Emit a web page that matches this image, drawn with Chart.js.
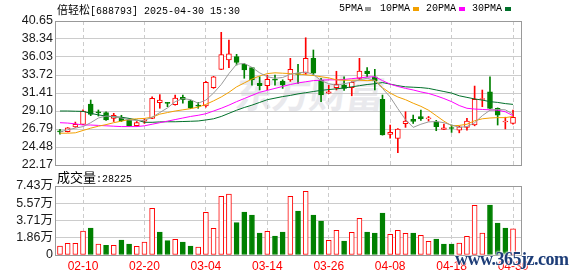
<!DOCTYPE html>
<html>
<head>
<meta charset="utf-8">
<script src="https://cdn.jsdelivr.net/npm/chart.js@4.4.1/dist/chart.umd.min.js"></script>
<style>
body { margin: 0; background: #fff; }
#wrap { position: relative; width: 578px; height: 276px; overflow: hidden; }
canvas { position: absolute; left: 0; top: 0; }
.t { position: absolute; white-space: nowrap; font-family: "Liberation Mono", monospace; font-size: 10px; line-height: 12px; color: #000; }
.cjk { font-family: "Noto Sans CJK SC", sans-serif; }
.sq { position: absolute; width: 6px; height: 4px; top: 7px; }
#wm { position: absolute; left: 236px; top: 64px; font: bold 38px "Noto Sans CJK SC", sans-serif; color: #e9e9ed; letter-spacing: -1px; transform: skewX(-8deg); }
#site { position: absolute; left: 455px; top: 249px; font: bold 18px "Liberation Serif", serif; letter-spacing: -0.5px; color: #1d3d78;
  text-shadow: 0 0 2px #fff, 0 0 2px #fff, 0 0 3px #fff; }
</style>
</head>
<body>
<div id="wrap">
  <div id="wm">东方财富</div>
  <canvas id="kline" width="578" height="276"></canvas>
  <canvas id="vol" width="578" height="276"></canvas>
  <div class="t" style="left:57px;top:3px"><span class="cjk" style="font-size:11px">倍轻松</span>[688793] 2025-04-30 15:30</div>
  <div class="t" style="left:57px;top:171px"><span class="cjk" style="font-size:13px">成交量</span>:28225</div>
  <div id="site">www.365jz.com</div>
</div>
<script>
// 2025-02-05 .. 2025-04-30 daily bars
var dates = ["02-05","02-06","02-07","02-10","02-11","02-12","02-13","02-14","02-17","02-18",
  "02-19","02-20","02-21","02-24","02-25","02-26","02-27","02-28","03-03","03-04",
  "03-05","03-06","03-07","03-10","03-11","03-12","03-13","03-14","03-17","03-18",
  "03-19","03-20","03-21","03-24","03-25","03-26","03-27","03-28","03-31","04-01",
  "04-02","04-03","04-07","04-08","04-09","04-10","04-11","04-14","04-15","04-16",
  "04-17","04-18","04-21","04-22","04-23","04-24","04-25","04-28","04-29","04-30"];

var open = [26.46,26.44,27.05,27.39,29.99,28.90,28.90,28.15,28.30,27.94,
  27.21,27.78,28.16,30.16,30.20,29.90,30.85,30.40,29.78,29.74,
  32.10,34.45,35.64,36.07,35.10,34.66,32.65,32.34,33.12,32.95,
  33.08,33.85,33.94,35.86,33.08,31.40,32.09,32.43,32.09,33.29,
  34.23,33.50,30.60,26.10,25.59,27.47,28.03,28.37,28.08,27.72,
  26.75,26.90,26.65,27.00,27.30,30.58,31.57,29.44,27.69,27.51];
var high = [26.75,26.98,27.68,29.25,30.51,29.23,29.00,28.80,28.55,28.00,
  27.75,28.10,30.93,31.20,30.20,31.15,31.15,30.50,30.20,32.90,
  33.55,39.20,38.20,36.37,35.20,34.70,33.50,33.70,33.70,33.10,
  35.86,35.10,38.50,36.93,33.30,32.40,34.20,33.50,32.85,35.86,
  34.66,34.45,31.15,27.30,26.85,29.00,28.58,29.23,28.40,27.90,
  27.43,27.30,27.15,28.16,32.30,31.79,33.50,29.50,28.30,29.23];
var low = [26.14,26.40,27.00,27.35,28.50,28.45,27.90,27.75,27.75,27.15,
  27.15,27.50,28.10,29.45,29.65,29.85,30.10,29.40,29.45,29.60,
  32.00,34.40,34.65,35.00,33.30,32.40,31.80,31.80,32.40,32.00,
  32.90,32.65,33.80,33.70,30.30,31.35,31.80,31.75,31.05,33.10,
  33.50,31.80,26.00,25.60,23.74,27.00,27.50,27.90,27.80,26.57,
  26.70,26.35,26.30,26.65,27.20,29.65,29.40,27.30,26.80,27.40];
var close = [26.42,26.95,27.40,29.10,28.67,28.85,27.94,28.55,27.85,27.21,
  27.60,27.82,30.73,30.51,30.08,30.75,30.55,29.45,29.72,32.78,
  33.50,36.35,36.45,35.35,34.36,33.08,32.35,33.16,33.05,32.45,
  34.45,33.78,35.86,33.94,31.15,31.55,32.52,32.01,32.78,34.23,
  33.90,32.95,26.02,26.36,26.79,27.81,27.77,28.11,28.14,27.08,
  26.95,26.85,27.08,27.81,30.60,30.65,29.44,28.58,27.74,28.29];
var prevClose = 26.20;
var volume = [9700,12600,12600,25800,29100,11800,10400,10400,16200,11800,
  9300,14000,50300,24800,15400,16900,14000,9700,8600,46000,
  28700,63200,65700,34800,46300,43100,23700,25500,20500,24800,
  63200,47400,68600,43100,36600,15800,26600,15100,24400,39500,
  24800,23700,45200,22300,26600,23300,23700,21200,14700,17200,
  11800,11800,12900,20100,53500,23700,53800,34500,29100,28225];

var ma5 = [26.40,26.70,26.90,27.10,27.60,28.20,28.45,28.40,28.20,27.95,
  27.90,27.90,28.30,28.90,29.50,30.30,30.70,30.55,30.10,30.50,
  31.40,32.50,33.90,35.10,35.20,34.70,34.00,33.50,33.30,33.40,
  33.80,34.00,34.10,33.80,33.00,32.60,32.40,32.60,32.80,33.10,
  33.30,33.00,32.00,30.90,29.40,28.00,27.00,27.40,27.70,27.75,
  27.60,27.30,27.00,27.10,27.60,28.50,29.20,29.30,29.25,28.70];
var ma10 = [26.25,26.25,26.30,26.60,26.90,27.15,27.35,27.60,27.80,28.00,
  28.10,28.15,28.30,28.70,28.90,29.10,29.25,29.40,29.60,29.95,
  30.40,30.90,31.50,32.20,32.70,33.20,33.60,33.90,34.00,33.95,
  33.90,33.85,33.75,33.65,33.50,33.35,33.10,33.05,33.05,33.05,
  33.00,33.05,32.10,31.40,30.90,30.55,30.10,29.70,29.20,28.50,
  27.80,27.20,27.25,27.40,27.85,28.10,28.20,28.25,28.25,28.40];
var ma20 = [27.60,27.55,27.45,27.30,27.30,27.25,27.20,27.15,27.10,27.10,
  27.10,27.20,27.40,27.60,27.80,28.00,28.20,28.40,28.55,28.75,
  29.10,29.45,29.85,30.30,30.70,31.10,31.50,31.75,32.00,32.25,
  32.50,32.70,32.85,33.00,33.05,33.10,33.10,33.15,33.25,33.35,
  33.45,33.50,33.00,32.55,32.25,32.00,31.80,31.55,31.35,31.05,
  30.70,30.30,29.80,29.45,29.35,29.30,29.25,29.20,29.00,28.50];
var ma30 = [29.10,29.10,29.07,29.05,28.80,28.60,28.45,28.35,28.30,28.15,
  27.95,27.65,27.65,27.70,27.72,27.72,27.75,27.78,27.82,27.95,
  28.10,28.40,28.80,29.20,29.55,29.85,30.20,30.55,30.75,30.95,
  31.10,31.30,31.45,31.60,31.75,31.85,31.95,32.05,32.20,32.35,
  32.50,32.60,32.75,32.55,32.35,32.20,32.15,32.10,32.00,31.80,
  31.60,31.40,31.05,30.85,30.65,30.50,30.30,30.20,30.05,29.95];

var priceTicks = [22.17, 24.48, 26.79, 29.10, 31.41, 33.72, 36.03, 38.34, 40.65];
var volTicks = [0, 18575, 37150, 55725, 74300];
var tickLabels = ["02-10","02-20","03-04","03-14","03-26","04-08","04-18","04-30"];
var maNames = ["5PMA", "10PMA", "20PMA", "30PMA"];

var RED = "#ff0000", GREEN = "#008000";
var maColors = ["#9a9a9a", "#f2a000", "#ff00ff", "#00702a"];
var legendPos = [[339, 365], [380, 413], [426, 459], [472, 505]];

Chart.defaults.font.family = '"Liberation Sans", Arial, "Noto Sans CJK SC", sans-serif';

// legend row at the top right
var wrap = document.getElementById("wrap");
maNames.forEach(function (name, k) {
    var t = document.createElement("div");
    t.className = "t";
    t.style.left = legendPos[k][0] + "px";
    t.style.top = "3px";
    t.textContent = name;
    wrap.appendChild(t);
    var s = document.createElement("div");
    s.className = "sq";
    s.style.left = legendPos[k][1] + "px";
    s.style.background = maColors[k];
    wrap.appendChild(s);
});

var tickIdx = tickLabels.map(function (d) { return dates.indexOf(d); });
var idx = dates.map(function (d, i) { return i; });
var isUp = idx.map(function (i) { return close[i] >= open[i]; });
var volUp = idx.map(function (i) { return close[i] >= (i ? close[i - 1] : prevClose); });

function pts(arr) {
    return arr.map(function (v, i) { return { x: i, y: v }; });
}

var frame = {
    id: "frame",
    afterDraw: function (chart) {
        var a = chart.chartArea, ctx = chart.ctx;
        ctx.save();
        ctx.strokeStyle = "#999";
        ctx.lineWidth = 1;
        ctx.strokeRect(Math.round(a.left) - 0.5, Math.round(a.top) + 0.5,
            Math.round(a.right - a.left), Math.round(a.bottom - a.top));
        ctx.restore();
    }
};

function xAxis(showLabels) {
    return {
        type: "linear", min: -0.52, max: 60.17, offset: false,
        afterBuildTicks: function (s) { s.ticks = tickIdx.map(function (v) { return { value: v }; }); },
        ticks: {
            display: showLabels, color: RED, padding: 4, maxRotation: 0, autoSkip: false,
            font: { size: 12 },
            callback: function (v) { return dates[v]; }
        },
        grid: { color: "#cccccc", drawTicks: false, offset: false },
        border: { display: false, dash: [4, 3] },
        afterFit: function (s) { s.height = showLabels ? 21 : 0; }
    };
}

function yAxis(min, max, list, fmt) {
    return {
        min: min, max: max,
        afterBuildTicks: function (s) { s.ticks = list.map(function (v) { return { value: v }; }); },
        ticks: { color: "#1a1a1a", padding: 3, font: { size: 12.5 }, autoSkip: false, callback: fmt },
        grid: { color: "#cccccc", drawTicks: false },
        border: { display: false },
        afterFit: function (s) { s.width = 56; }
    };
}

var maSets = [ma5, ma10, ma20, ma30].map(function (arr, k) {
    return {
        type: "line", label: maNames[k], data: pts(arr), borderColor: maColors[k],
        borderWidth: 1, pointRadius: 0, tension: 0, fill: false, order: 1
    };
});

new Chart(document.getElementById("kline"), {
    type: "bar",
    data: {
        datasets: maSets.concat([{
            label: "body",
            data: idx.map(function (i) { return { x: i, y: [open[i], close[i]] }; }),
            backgroundColor: isUp.map(function (u) { return u ? "#ffffff" : GREEN; }),
            borderColor: isUp.map(function (u) { return u ? RED : GREEN; }),
            borderWidth: 1, borderSkipped: false, barThickness: 5, minBarLength: 1,
            grouped: false, order: 2
        }, {
            label: "wick",
            data: idx.map(function (i) { return { x: i, y: [low[i], high[i]] }; }),
            backgroundColor: isUp.map(function (u) { return u ? RED : GREEN; }),
            barThickness: 1, grouped: false, order: 3
        }])
    },
    options: {
        responsive: false, animation: false, events: [],
        layout: { padding: { top: 21, right: 56, bottom: 111, left: 0 } },
        plugins: { legend: { display: false }, tooltip: { enabled: false } },
        scales: {
            x: xAxis(false),
            y: yAxis(22.17, 40.65, priceTicks, function (v) { return v.toFixed(2); })
        }
    },
    plugins: [frame]
});

new Chart(document.getElementById("vol"), {
    type: "bar",
    data: {
        datasets: [{
            label: "volume",
            data: pts(volume),
            backgroundColor: volUp.map(function (u) { return u ? "#ffffff" : GREEN; }),
            borderColor: volUp.map(function (u) { return u ? RED : GREEN; }),
            borderWidth: 1, borderSkipped: false, barThickness: 5, grouped: false
        }]
    },
    options: {
        responsive: false, animation: false, events: [],
        layout: { padding: { top: 186, right: 56, bottom: 0, left: 0 } },
        plugins: { legend: { display: false }, tooltip: { enabled: false } },
        scales: {
            x: xAxis(true),
            y: yAxis(0, 74300, volTicks, function (v) {
                return v === 0 ? "0" : (v / 10000).toFixed(2) + "万";
            })
        }
    },
    plugins: [frame]
});
</script>
</body>
</html>
